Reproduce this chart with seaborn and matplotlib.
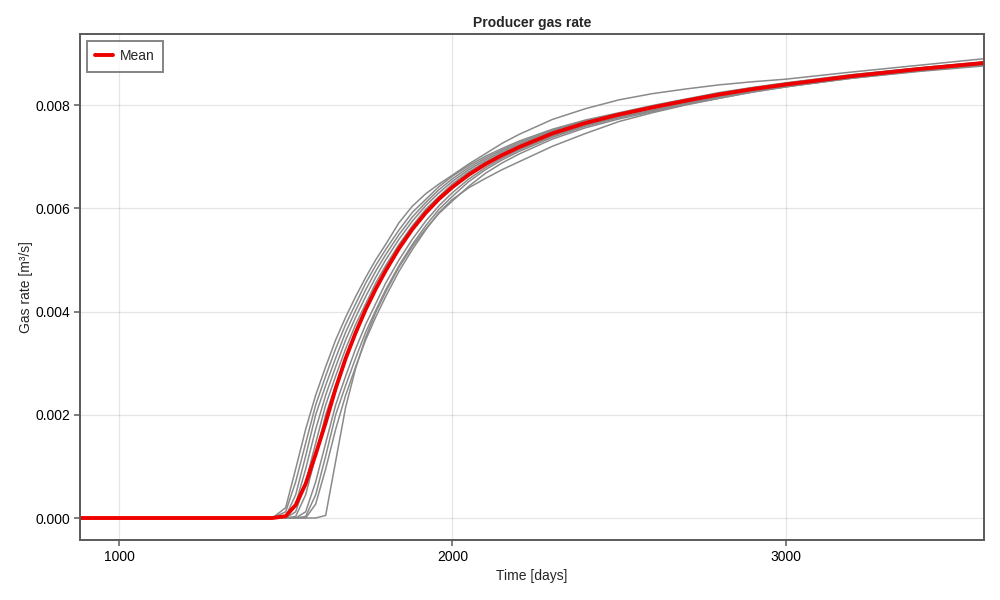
import numpy as np
import pandas as pd
import matplotlib
matplotlib.use("Agg")
import matplotlib.pyplot as plt
import seaborn as sns

# ---- data (gas rate in 1e-3 m^3/s) ----
time_days = [880, 1400, 1460, 1500, 1530, 1560, 1590, 1620, 1650, 1680, 1710, 1740, 1770,
             1800, 1840, 1880, 1920, 1960, 2000, 2050, 2100, 2150, 2200, 2300, 2400, 2500,
             2600, 2700, 2800, 2900, 3000, 3200, 3400, 3600]

member_a = [0, 0, 0, 0.2, 0.95, 1.72, 2.38, 2.93, 3.45, 3.89, 4.29, 4.66, 5.0, 5.3, 5.72,
            6.04, 6.28, 6.47, 6.64, 6.86, 7.06, 7.26, 7.43, 7.72, 7.93, 8.1, 8.22, 8.31,
            8.39, 8.45, 8.5, 8.64, 8.77, 8.9]
member_b = [0, 0, 0, 0.12, 0.7, 1.45, 2.19, 2.75, 3.28, 3.75, 4.15, 4.55, 4.89, 5.2, 5.58,
            5.92, 6.17, 6.42, 6.62, 6.83, 7.01, 7.16, 7.3, 7.53, 7.71, 7.85, 7.99, 8.115,
            8.24, 8.34, 8.43, 8.59, 8.72, 8.84]
member_c = [0, 0, 0, 0.03, 0.45, 1.2, 2.0, 2.57, 3.1, 3.6, 4.02, 4.42, 4.78, 5.1, 5.49,
            5.83, 6.11, 6.36, 6.57, 6.79, 6.975, 7.13, 7.27, 7.51, 7.695, 7.835, 7.975, 8.1,
            8.23, 8.33, 8.42, 8.58, 8.715, 8.835]
member_d = [0, 0, 0, 0, 0.27, 0.95, 1.72, 2.38, 2.93, 3.45, 3.89, 4.29, 4.66, 5.0, 5.4,
            5.75, 6.05, 6.3, 6.52, 6.75, 6.94, 7.1, 7.24, 7.49, 7.68, 7.82, 7.96, 8.09,
            8.22, 8.32, 8.41, 8.57, 8.71, 8.83]
member_e = [0, 0, 0, 0, 0.12, 0.7, 1.45, 2.19, 2.75, 3.28, 3.75, 4.15, 4.55, 4.89, 5.3,
            5.66, 5.98, 6.23, 6.47, 6.71, 6.905, 7.07, 7.215, 7.47, 7.66, 7.81, 7.945, 8.08,
            8.205, 8.31, 8.40, 8.565, 8.705, 8.825]
member_f = [0, 0, 0, 0, 0.03, 0.45, 1.2, 2.0, 2.57, 3.1, 3.6, 4.02, 4.42, 4.78, 5.2,
            5.58, 5.92, 6.17, 6.42, 6.665, 6.87, 7.04, 7.19, 7.45, 7.64, 7.8, 7.93, 8.05,
            8.17, 8.27, 8.36, 8.52, 8.65, 8.76]
member_g = [0, 0, 0, 0, 0, 0.12, 0.7, 1.45, 2.19, 2.75, 3.28, 3.75, 4.15, 4.55, 5.0,
            5.4, 5.75, 6.05, 6.3, 6.57, 6.79, 6.975, 7.13, 7.4, 7.61, 7.77, 7.9, 8.04,
            8.165, 8.28, 8.375, 8.545, 8.685, 8.805]
member_h = [0, 0, 0, 0, 0, 0.03, 0.45, 1.2, 2.0, 2.57, 3.1, 3.6, 4.02, 4.42, 4.89,
            5.3, 5.66, 5.98, 6.23, 6.52, 6.75, 6.94, 7.1, 7.375, 7.59, 7.755, 7.89, 8.03,
            8.15, 8.27, 8.37, 8.54, 8.68, 8.8]
member_i = [0, 0, 0, 0, 0, 0, 0.27, 0.95, 1.72, 2.38, 2.93, 3.45, 3.89, 4.29, 4.78,
            5.2, 5.58, 5.92, 6.17, 6.4, 6.58, 6.75, 6.9, 7.2, 7.45, 7.68, 7.85, 8.0,
            8.13, 8.25, 8.35, 8.53, 8.67, 8.79]
member_j = [0, 0, 0, 0, 0, 0, 0, 0.05, 1.1, 2.15, 2.9, 3.5, 3.98, 4.38, 4.86,
            5.26, 5.6, 5.9, 6.14, 6.43, 6.68, 6.88, 7.05, 7.34, 7.56, 7.73, 7.87, 8.01,
            8.13, 8.25, 8.35, 8.52, 8.66, 8.78]

members = {"a": member_a, "b": member_b, "c": member_c, "d": member_d, "e": member_e,
           "f": member_f, "g": member_g, "h": member_h, "i": member_i, "j": member_j}

x_ticks = [1000, 2000, 3000]
y_ticks = [0.000, 0.002, 0.004, 0.006, 0.008]

rows = []
for name, vals in members.items():
    for t, v in zip(time_days, vals):
        rows.append({"member": name, "time": t, "rate": v * 1e-3})
df = pd.DataFrame(rows)

# ---- style ----
sns.set_theme(style="white")
plt.rcParams["font.family"] = ["Liberation Sans", "DejaVu Sans"]

fig = plt.figure(figsize=(10, 6), dpi=100)
ax = fig.add_axes([0.08, 0.1, 0.904, 0.8433])

sns.lineplot(data=df, x="time", y="rate", units="member", estimator=None,
             color="#8a8a8a", linewidth=1.1, ax=ax, legend=False)
sns.lineplot(data=df, x="time", y="rate", estimator="mean", errorbar=None,
             color="#ee0000", linewidth=2.8, ax=ax, label="Mean")

ax.set_xlim(883, 3595)
ax.set_ylim(-0.000426, 0.009375)
ax.set_xticks(x_ticks)
ax.set_yticks(y_ticks)
ax.set_yticklabels([f"{v:.3f}" for v in y_ticks])
ax.grid(True, color="black", alpha=0.1, linewidth=0.9)
ax.set_axisbelow(True)
for s in ax.spines.values():
    s.set_color("#5a5a5a")
    s.set_linewidth(1.4)
ax.tick_params(axis="both", direction="out", length=4, width=1.1, color="#5a5a5a",
               labelsize=10, labelcolor="black", left=True, bottom=True, pad=3)
ax.set_xlabel("Time [days]", fontsize=10, labelpad=4)
ax.set_ylabel("Gas rate [m³/s]", fontsize=10, labelpad=1.5)
ax.set_title("Producer gas rate", fontsize=10, fontweight="bold", pad=5)

leg = ax.legend(loc="upper left", fontsize=10, frameon=True, fancybox=False,
                borderaxespad=0.5, handlelength=1.3, borderpad=0.6, handletextpad=0.45)
leg.get_frame().set_edgecolor("#666666")
leg.get_frame().set_linewidth(1.4)

fig.savefig("out.png", dpi=100, facecolor="white")
